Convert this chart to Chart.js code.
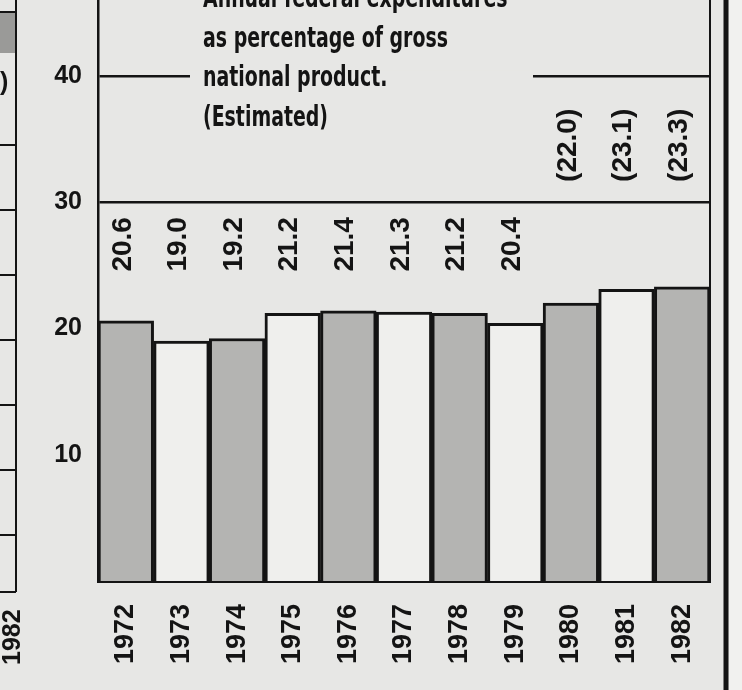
<!DOCTYPE html>
<html>
<head>
<meta charset="utf-8">
<script src="https://cdn.jsdelivr.net/npm/chart.js@4.4.1/dist/chart.umd.min.js"></script>
<style>
  body { margin: 0; background: #e7e7e5; }
  #wrap { width: 742px; height: 690px; position: relative; }
</style>
</head>
<body>
<div id="wrap"><canvas id="gnpChart"></canvas></div>
<script>
// federal spending as % of GNP
const years = ['1972', '1973', '1974', '1975', '1976', '1977', '1978', '1979', '1980', '1981', '1982'];
const spending = [20.6, 19.0, 19.2, 21.2, 21.4, 21.3, 21.2, 20.4, 22.0, 23.1, 23.3];
const estimatedYears = ['1980', '1981', '1982'];
const yTicks = [10, 20, 30, 40];
const gridValues = [30, 40];
const titleLines = ['Annual federal expenditures', 'as percentage of gross', 'national product.', '(Estimated)'];

const paper = '#e7e7e5';
const ink = '#141414';
const shaded = '#b4b4b2';
const plain = '#efefed';
const bold = '"Liberation Sans", Arial, sans-serif';

const barColors = years.map((y, i) => i % 2 === 0 ? shaded : plain);

// value labels written vertically above the bars
const valueLabels = {
    id: 'valueLabels',
    afterDatasetsDraw(chart) {
        const ctx = chart.ctx;
        const meta = chart.getDatasetMeta(0);
        const yScale = chart.scales.y;
        ctx.save();
        ctx.fillStyle = ink;
        ctx.font = 'bold 28px ' + bold;
        ctx.textAlign = 'left';
        ctx.textBaseline = 'middle';
        meta.data.forEach((bar, i) => {
            const est = estimatedYears.includes(years[i]);
            const txt = est ? '(' + spending[i].toFixed(1) + ')' : spending[i].toFixed(1);
            const y = yScale.getPixelForValue(est ? 31.6 : 24.5);
            ctx.save();
            ctx.translate(bar.x - 3, y);
            ctx.rotate(-Math.PI / 2);
            ctx.fillText(txt, 0, 0);
            ctx.restore();
        });
        ctx.restore();
    }
};

// caption block sitting on the 40 line, plus the frame lines
const decorations = {
    id: 'decorations',
    afterDraw(chart) {
        const ctx = chart.ctx;
        const area = chart.chartArea;
        const y40 = chart.scales.y.getPixelForValue(40);
        ctx.save();
        ctx.fillStyle = paper;
        ctx.fillRect(190, y40 - 5, 343, 10);

        ctx.fillStyle = ink;
        ctx.font = 'bold 28px "Liberation Sans Narrow", "DejaVu Sans Condensed", sans-serif';
        ctx.textAlign = 'left';
        ctx.textBaseline = 'alphabetic';
        // squeeze the caption to the width it has in the scan
        const sx = 245 / ctx.measureText(titleLines[1]).width;
        titleLines.forEach((line, i) => {
            ctx.save();
            ctx.translate(203, 7 + i * 39.5);
            ctx.scale(sx, 1);
            ctx.fillText(line, 0, 0);
            ctx.restore();
        });

        // right edge of plot and outer frame
        ctx.strokeStyle = ink;
        ctx.lineWidth = 2;
        ctx.beginPath();
        ctx.moveTo(area.right, 0);
        ctx.lineTo(area.right, area.bottom);
        ctx.stroke();
        ctx.fillStyle = '#f1f1ef';
        ctx.fillRect(729, 0, 13, 690);
        ctx.lineWidth = 5;
        ctx.beginPath();
        ctx.moveTo(726, 0);
        ctx.lineTo(726, 690);
        ctx.stroke();

        // bits of the neighbouring chart on the left
        ctx.lineWidth = 2;
        ctx.beginPath();
        ctx.moveTo(16, 0);
        ctx.lineTo(16, 592);
        [12, 145, 210, 275, 340, 405, 470, 535, 592].forEach(y => {
            ctx.moveTo(0, y);
            ctx.lineTo(16, y);
        });
        ctx.stroke();
        ctx.fillStyle = '#9a9a98';
        ctx.fillRect(0, 13, 15, 40);
        ctx.fillStyle = ink;
        ctx.font = 'bold 25px ' + bold;
        ctx.fillText(')', 0, 90);
        ctx.save();
        ctx.translate(13, 665);
        ctx.rotate(-Math.PI / 2);
        ctx.textBaseline = 'middle';
        ctx.fillText('1982', 0, 0);
        ctx.restore();
        ctx.restore();
    }
};

const paperBg = {
    id: 'paperBg',
    beforeDraw(chart) {
        const ctx = chart.ctx;
        ctx.save();
        ctx.fillStyle = paper;
        ctx.fillRect(0, 0, chart.width, chart.height);
        ctx.restore();
    }
};

document.addEventListener('DOMContentLoaded', function () {
    const ctx = document.getElementById('gnpChart').getContext('2d');
    new Chart(ctx, {
        type: 'bar',
        data: {
            labels: years,
            datasets: [{
                label: 'Federal expenditures (% of GNP)',
                data: spending,
                backgroundColor: barColors,
                borderColor: ink,
                borderWidth: 3,
                barPercentage: 1,
                categoryPercentage: 1
            }]
        },
        options: {
            responsive: true,
            maintainAspectRatio: false,
            animation: false,
            layout: { padding: { top: 0, right: 32, left: 0, bottom: 0 } },
            plugins: {
                legend: { display: false },
                tooltip: { enabled: false }
            },
            scales: {
                x: {
                    grid: { display: false },
                    border: { display: true, color: ink, width: 3 },
                    ticks: {
                        color: ink,
                        font: { family: bold, size: 27, weight: 'bold' },
                        maxRotation: 90,
                        minRotation: 90,
                        padding: 15
                    },
                    afterFit(scale) {
                        scale.height = 109;
                        scale.paddingLeft = 0;
                        scale.paddingRight = 0;
                    }
                },
                y: {
                    min: 0,
                    max: 46,
                    afterBuildTicks(scale) {
                        scale.ticks = yTicks.map(v => ({ value: v }));
                    },
                    grid: {
                        drawTicks: false,
                        lineWidth: 2.5,
                        color: c => gridValues.includes(c.tick.value) ? ink : 'rgba(0,0,0,0)'
                    },
                    border: { display: true, color: ink, width: 2.5 },
                    ticks: {
                        color: ink,
                        font: { family: bold, size: 25, weight: 'bold' },
                        padding: 16
                    },
                    afterFit(scale) {
                        scale.width = 98;
                        scale.paddingTop = 0;
                        scale.paddingBottom = 0;
                    }
                }
            }
        },
        plugins: [paperBg, valueLabels, decorations]
    });
});
</script>
</body>
</html>
